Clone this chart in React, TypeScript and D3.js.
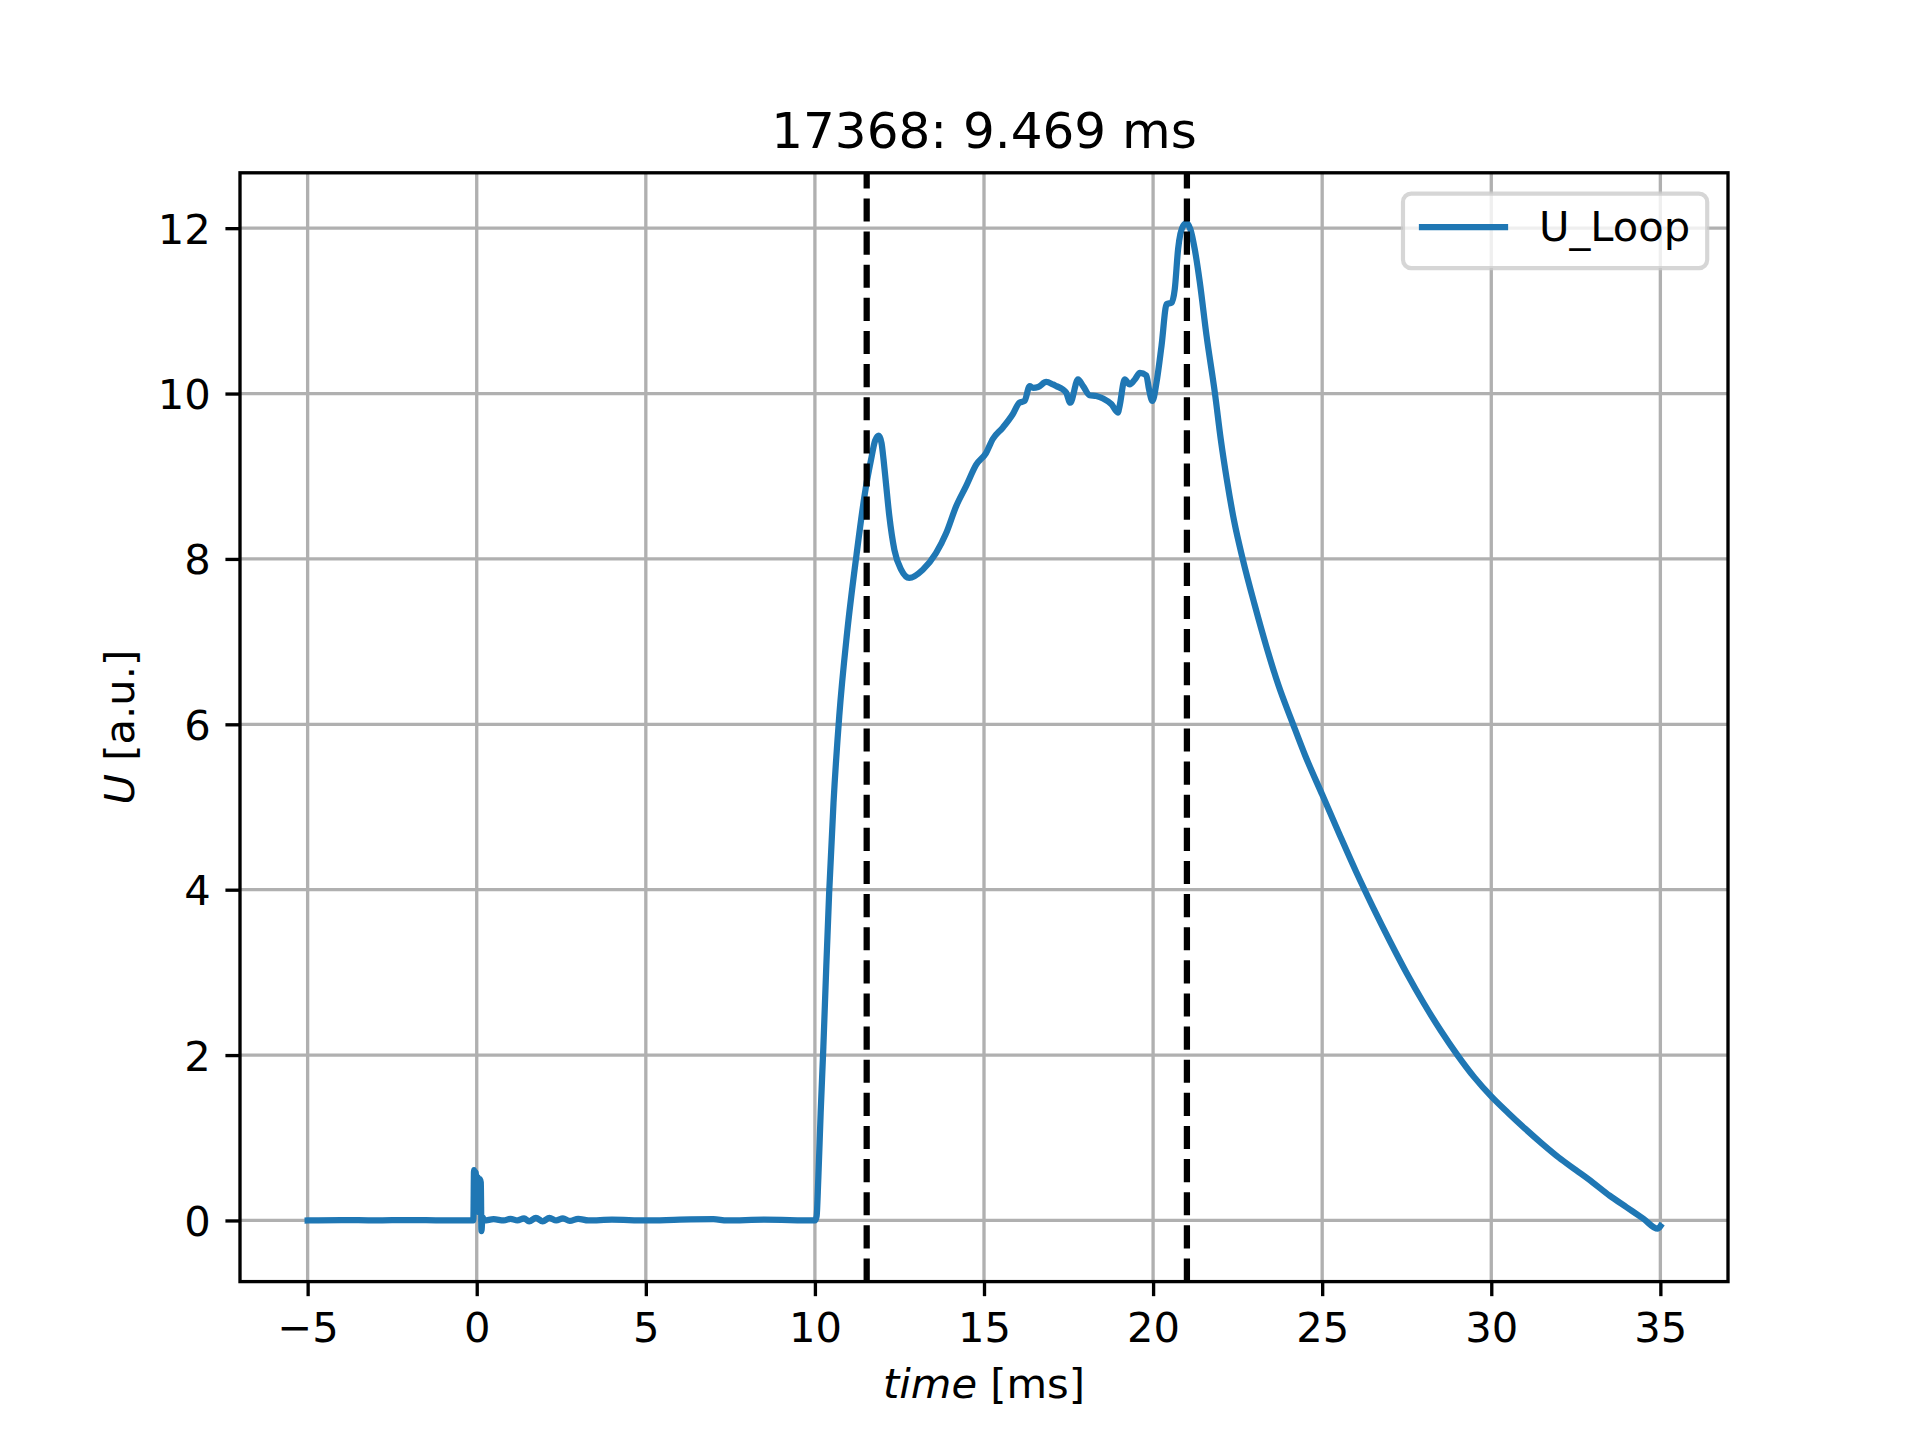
import React, { useEffect, useRef } from "react";
import * as d3 from "d3";

// ---- data ----
const time: number[] = [
  -5, -4, -3, -2, -1, -0.1, -0.08, -0.05, -0.03, 0.0, 0.03, 0.06, 0.09, 0.12, 0.14, 0.17, 0.22,
  0.5, 0.8, 1.0, 1.2, 1.4, 1.55, 1.75, 1.95, 2.15, 2.35, 2.55, 2.75, 3.0, 3.3, 4.0, 5.0, 6.0, 7.0, 7.4, 8.5, 10.0,
  10.05, 10.1, 10.17, 10.25, 10.33, 10.42, 10.55, 10.72, 10.95, 11.23, 11.5, 11.66, 11.78, 11.89, 11.97, 12.03,
  12.1, 12.2, 12.35, 12.55, 12.79, 13.19, 13.58, 13.88, 14.18, 14.47, 14.77, 15.06, 15.26, 15.56, 15.85,
  16.05, 16.2, 16.35, 16.45, 16.6, 16.84, 17.04, 17.14, 17.33, 17.43, 17.55, 17.78, 17.93, 18.12, 18.32,
  18.52, 18.77, 18.96, 19.01, 19.16, 19.31, 19.46, 19.61, 19.8, 19.88, 19.98, 20.1, 20.25, 20.4, 20.55,
  20.64, 20.74, 20.89, 20.99, 21.1, 21.23, 21.38, 21.58, 21.83, 22.0, 22.18, 22.4, 22.65, 23.0, 23.35,
  23.7, 24.14, 24.5, 25.0, 25.5, 26.0, 26.5, 27.0, 27.5, 28.0, 28.5, 29.0, 29.5, 30.0, 30.5, 31.0,
  31.5, 32.0, 32.5, 33.0, 33.5, 34.0, 34.5, 34.92, 35.0,
];
const uLoop: number[] = [
  0.0, 0.005, 0.0, 0.005, 0.0, 0.0, 0.61, 0.1, 0.58, 0.15, 0.52, 0.1, 0.5, 0.46, -0.13, 0.04, 0.0,
  0.015, 0.0, 0.02, 0.0, 0.025, -0.01, 0.03, -0.01, 0.03, 0.0, 0.025, -0.005, 0.02, 0.0, 0.01, 0.0, 0.01, 0.015, 0.0, 0.01, 0.0,
  0.05, 0.5, 1.3, 2.1, 3.0, 3.95, 5.05, 6.1, 7.1, 8.05, 8.85, 9.2, 9.43, 9.49, 9.4, 9.2,
  8.92, 8.52, 8.11, 7.87, 7.77, 7.87, 8.07, 8.31, 8.64, 8.88, 9.14, 9.28, 9.45, 9.59, 9.75,
  9.89, 9.91, 10.09, 10.07, 10.08, 10.14, 10.11, 10.09, 10.05, 10.01, 9.89, 10.17, 10.09, 9.98, 9.97,
  9.94, 9.87, 9.77, 9.85, 10.17, 10.11, 10.17, 10.25, 10.22, 10.05, 9.91, 10.13, 10.58, 11.08, 11.1,
  11.26, 11.75, 12.03, 12.06, 11.99, 11.75, 11.35, 10.7, 10.0, 9.45, 8.96, 8.45, 8.0, 7.45, 6.94,
  6.48, 6.0, 5.62, 5.15, 4.68, 4.22, 3.79, 3.38, 2.99, 2.63, 2.3, 2.0, 1.73, 1.5, 1.3, 1.11,
  0.93, 0.76, 0.61, 0.46, 0.3, 0.16, 0.02, -0.1, -0.07,
];
const xTicks: number[] = [-5, 0, 5, 10, 15, 20, 25, 30, 35];
const yTicks: number[] = [0, 2, 4, 6, 8, 10, 12];
const markerTimes: number[] = [11.531, 21.0];
const seriesName = "U_Loop";
const titleText = "17368: 9.469 ms";

const W = 1920;
const H = 1440;
const M = { left: 240, right: 1728, top: 172.8, bottom: 1281.6 };
const FONT = "DejaVu Sans, Liberation Sans, sans-serif";
const FS = 41.67;
const BLUE = "#1f77b4";

export default function App() {
  const ref = useRef<SVGSVGElement | null>(null);

  useEffect(() => {
    document.body.style.margin = "0";
    const svg = d3.select(ref.current);
    svg.selectAll("*").remove();

    const [x0, x1] = d3.extent(time) as [number, number];
    const [y0, y1] = d3.extent(uLoop) as [number, number];
    const xp = (x1 - x0) * 0.05;
    const yp = (y1 - y0) * 0.05;
    const x = d3.scaleLinear().domain([x0 - xp, x1 + xp]).range([M.left, M.right]);
    const y = d3.scaleLinear().domain([y0 - yp, y1 + yp]).range([M.bottom, M.top]);

    svg.append("rect").attr("width", W).attr("height", H).attr("fill", "white");

    // grid
    const grid = svg.append("g");
    grid.selectAll("line.gx").data(xTicks).join("line")
      .attr("x1", (d) => x(d)).attr("x2", (d) => x(d))
      .attr("y1", M.top).attr("y2", M.bottom)
      .attr("stroke", "#b0b0b0").attr("stroke-width", 3.33);
    grid.selectAll("line.gy").data(yTicks).join("line")
      .attr("class", "gy")
      .attr("y1", (d) => y(d)).attr("y2", (d) => y(d))
      .attr("x1", M.left).attr("x2", M.right)
      .attr("stroke", "#b0b0b0").attr("stroke-width", 3.33);

    // clip
    svg.append("clipPath").attr("id", "clip").append("rect")
      .attr("x", M.left).attr("y", M.top)
      .attr("width", M.right - M.left).attr("height", M.bottom - M.top);

    const pts = time.map((t, i) => [t, uLoop[i]] as [number, number]);
    const line = d3.line<[number, number]>().x((d) => x(d[0])).y((d) => y(d[1])).curve(d3.curveMonotoneX);
    svg.append("path").attr("d", line(pts) as string)
      .attr("clip-path", "url(#clip)")
      .attr("fill", "none").attr("stroke", BLUE).attr("stroke-width", 6.25)
      .attr("stroke-linejoin", "round").attr("stroke-linecap", "square");

    // dashed markers
    svg.append("g").selectAll("line").data(markerTimes).join("line")
      .attr("x1", (d) => x(d)).attr("x2", (d) => x(d))
      .attr("y1", M.bottom).attr("y2", M.top)
      .attr("stroke", "black").attr("stroke-width", 6.25)
      .attr("stroke-dasharray", "23.125,10");

    // axes
    const fmt = d3.format("d");
    const gx = svg.append("g").attr("transform", `translate(0,${M.bottom})`)
      .call(d3.axisBottom(x).tickValues(xTicks).tickFormat((d) => fmt(d as number)).tickSize(14.58).tickSizeOuter(0));
    gx.select(".domain").remove();
    gx.selectAll(".tick line").attr("stroke", "black").attr("stroke-width", 3.33);
    gx.selectAll(".tick text").attr("y", 60.4).attr("dy", null)
      .attr("font-family", FONT).attr("font-size", FS).attr("fill", "black");

    const gy = svg.append("g").attr("transform", `translate(${M.left},0)`)
      .call(d3.axisLeft(y).tickValues(yTicks).tickFormat((d) => fmt(d as number)).tickSize(14.58).tickSizeOuter(0));
    gy.select(".domain").remove();
    gy.selectAll(".tick line").attr("stroke", "black").attr("stroke-width", 3.33);
    gy.selectAll(".tick text").attr("x", -29.2).attr("y", 15).attr("dy", null)
      .attr("text-anchor", "end")
      .attr("font-family", FONT).attr("font-size", FS).attr("fill", "black");

    // spines
    svg.append("rect").attr("x", M.left).attr("y", M.top)
      .attr("width", M.right - M.left).attr("height", M.bottom - M.top)
      .attr("fill", "none").attr("stroke", "black").attr("stroke-width", 3.33);

    // title
    svg.append("text").attr("x", (M.left + M.right) / 2).attr("y", 148)
      .attr("text-anchor", "middle").attr("font-family", FONT).attr("font-size", 50)
      .text(titleText);

    // x label
    const xl = svg.append("text").attr("x", (M.left + M.right) / 2).attr("y", 1398)
      .attr("text-anchor", "middle").attr("font-family", FONT).attr("font-size", FS);
    xl.append("tspan").attr("font-style", "italic").text("time");
    xl.append("tspan").text(" [ms]");

    // y label
    const yl = svg.append("text")
      .attr("transform", `translate(133.5,${(M.top + M.bottom) / 2}) rotate(-90)`)
      .attr("text-anchor", "middle").attr("font-family", FONT).attr("font-size", FS);
    yl.append("tspan").attr("font-style", "italic").text("U");
    yl.append("tspan").text(" [a.u.]");

    // legend
    const lg = svg.append("g");
    lg.append("rect").attr("x", 1403).attr("y", 193.6).attr("width", 304.2).attr("height", 74.5)
      .attr("rx", 8.3).attr("ry", 8.3)
      .attr("fill", "white").attr("fill-opacity", 0.8)
      .attr("stroke", "#cccccc").attr("stroke-opacity", 0.8).attr("stroke-width", 4.17);
    lg.append("line").attr("x1", 1422).attr("x2", 1505).attr("y1", 227).attr("y2", 227)
      .attr("stroke", BLUE).attr("stroke-width", 6.25).attr("stroke-linecap", "square");
    lg.append("text").attr("x", 1539).attr("y", 241)
      .attr("font-family", FONT).attr("font-size", FS).text(seriesName);
  }, []);

  return (
    <div style={{ position: "absolute", left: 0, top: 0 }}>
      <svg ref={ref} width={W} height={H} style={{ display: "block" }} />
    </div>
  );
}
